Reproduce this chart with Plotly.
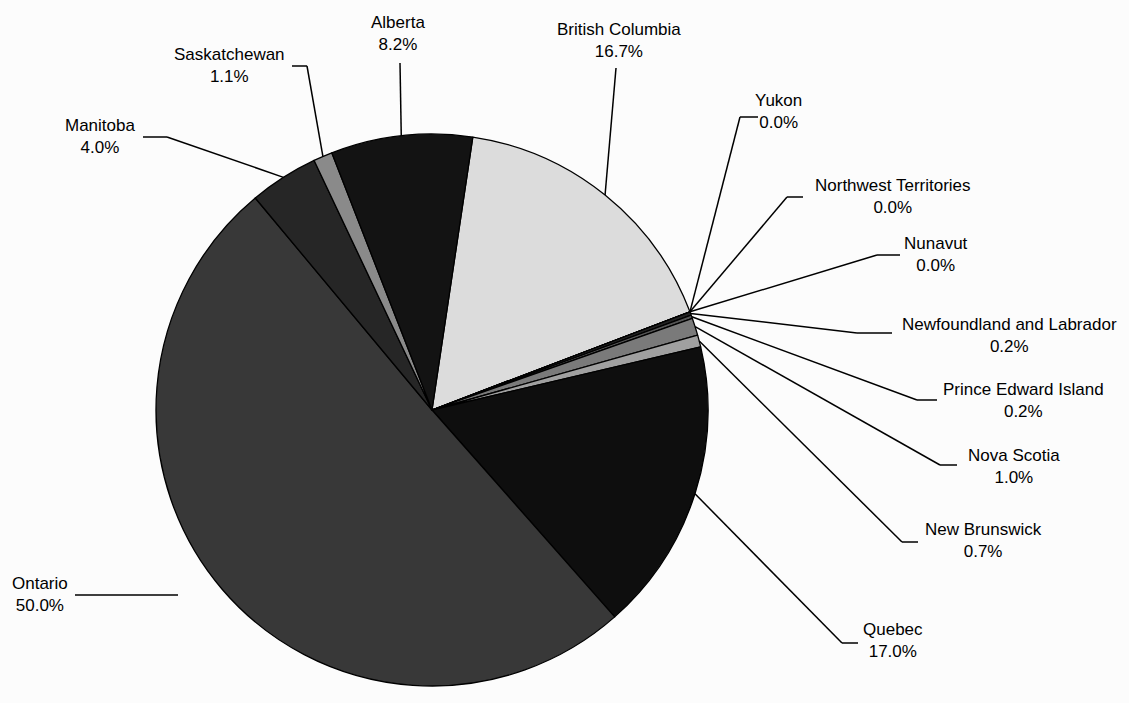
import math
import plotly.graph_objects as go

# ---------------- data ----------------
provinces = [
    "British Columbia", "Yukon", "Northwest Territories", "Nunavut",
    "Newfoundland and Labrador", "Prince Edward Island", "Nova Scotia",
    "New Brunswick", "Quebec", "Ontario", "Manitoba", "Saskatchewan", "Alberta",
]
shares = [16.7, 0.0, 0.0, 0.0, 0.2, 0.2, 1.0, 0.7, 17.0, 50.0, 4.0, 1.1, 8.2]

# ---------------- styles ----------------
slice_colors = [
    "#dcdcdc", "#111111", "#111111", "#111111",
    "#222222", "#555555", "#7a7a7a", "#a0a0a0",
    "#0e0e0e", "#383838", "#262626", "#8a8a8a", "#131313",
]

# label layout (pixel positions on the 1129x703 page)
label_center = [
    (619, 40), (779, 111), (893, 196), (936, 254), (1009, 335), (1023, 400),
    (1014, 466), (983, 540), (893, 640), (40, 594), (100, 136), (229, 65), (398, 34),
]
leader_start = [
    (616, 68), (758, 117), (803, 197), (900, 255), (892, 333), (937, 400),
    (957, 465), (918, 542), (858, 643), (75, 595), (143, 137), (292, 66), (400, 63),
]
leader_elbow = [
    (616, 68), (740, 117), (787, 197), (877, 255), (857, 333), (917, 400),
    (940, 465), (902, 542), (842, 643), (178, 595), (167, 137), (307, 66), (400, 63),
]
leader_reaches_pie = [True] * 9 + [False] + [True] * 3

W, H = 1129, 703
CX, CY, R = 432, 410, 276
ROT = 8.5


def to_paper(x, y):
    return x / W, 1 - y / H


fig = go.Figure(
    go.Pie(
        labels=provinces,
        values=shares,
        sort=False,
        direction="clockwise",
        rotation=ROT,
        marker=dict(colors=slice_colors, line=dict(color="black", width=1.3)),
        textinfo="none",
        hoverinfo="label+percent",
        showlegend=False,
        domain=dict(x=[(CX - R) / W, (CX + R) / W], y=[(H - CY - R) / H, (H - CY + R) / H]),
    )
)

total = sum(shares)
cum = 0.0
shapes = []
annotations = []
for i, (name, v) in enumerate(zip(provinces, shares)):
    mid = math.radians(ROT + 360.0 * (cum + v / 2.0) / total)
    cum += v
    ex, ey = CX + R * math.sin(mid), CY - R * math.cos(mid)
    sx, sy = leader_start[i]
    bx, by = leader_elbow[i]
    pts = [(sx, sy), (bx, by)]
    if leader_reaches_pie[i]:
        pts.append((ex, ey))
    for (x0, y0), (x1, y1) in zip(pts[:-1], pts[1:]):
        if (x0, y0) == (x1, y1):
            continue
        p0 = to_paper(x0, y0)
        p1 = to_paper(x1, y1)
        shapes.append(dict(type="line", xref="paper", yref="paper",
                           x0=p0[0], y0=p0[1], x1=p1[0], y1=p1[1],
                           line=dict(color="black", width=1.5)))
    lx, ly = to_paper(*label_center[i])
    annotations.append(dict(
        x=lx, y=ly, xref="paper", yref="paper", showarrow=False,
        xanchor="center", yanchor="middle", align="center",
        text=f"{name}<br>{v:.1f}%",
        font=dict(family="Liberation Sans, Arial, sans-serif", size=17, color="black"),
    ))

fig.update_layout(
    width=W, height=H,
    margin=dict(l=0, r=0, t=0, b=0),
    paper_bgcolor="#fcfcfc",
    plot_bgcolor="#fcfcfc",
    shapes=shapes,
    annotations=annotations,
)

fig.write_html("out.html")
